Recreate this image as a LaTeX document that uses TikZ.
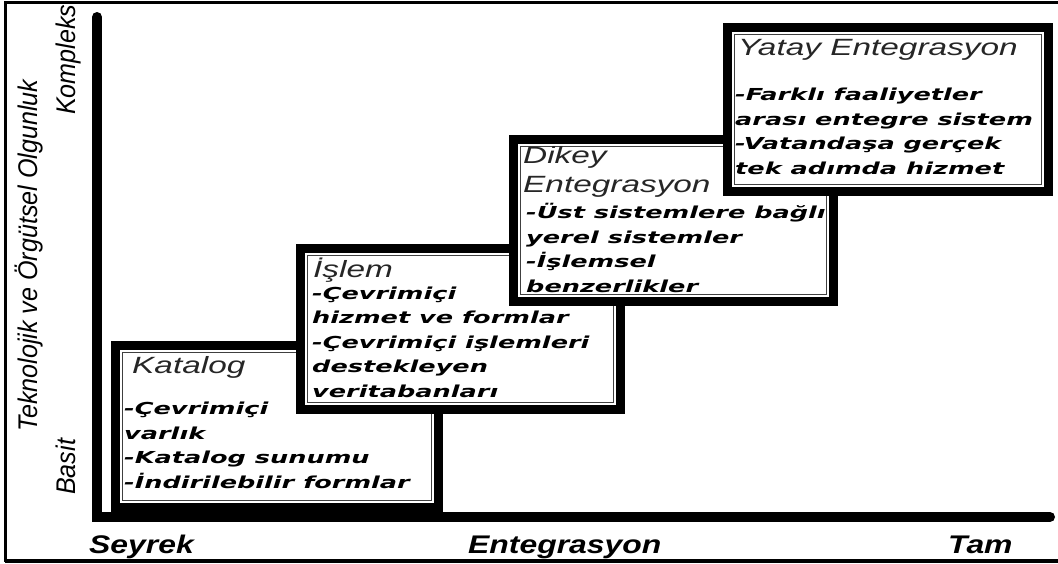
\documentclass[tikz,border=0pt]{standalone}
\usepackage{fontspec}
\setmainfont{Liberation Sans}
\newfontfamily\bodyfont[FakeStretch=1.55]{DejaVu Sans}
\newfontfamily\titlefont[FakeStretch=1.42]{Liberation Sans}
\newfontfamily\axisfont[FakeStretch=0.93]{Liberation Sans}
\newfontfamily\scalefont[FakeStretch=1.25]{Liberation Sans}
\def\bodysize{\fontsize{16.5}{24.5}\selectfont}

\begin{document}
\begin{tikzpicture}[x=1pt,y=-1pt,
    stage/.style={draw,fill=white,line width=9pt,inner sep=0pt,
        path picture={\draw[line width=0.8pt,black!75] ([shift={(7pt,-7pt)}]path picture bounding box.north west) rectangle ([shift={(-7pt,7pt)}]path picture bounding box.south east);}},
    head/.style={anchor=base west,inner sep=0pt,align=left,text=black!85,font=\titlefont\itshape\fontsize{23.5}{29}\selectfont},
    items/.style={anchor=base west,inner sep=0pt,align=left,font=\bodyfont\bfseries\itshape\bodysize},
    ylab/.style={anchor=base west,inner sep=0pt,rotate=90,font=\axisfont\itshape\fontsize{27}{28}\selectfont},
    xlab/.style={anchor=base west,inner sep=0pt,font=\scalefont\bfseries\itshape\fontsize{25.5}{26}\selectfont}]

    \useasboundingbox (0,0) rectangle (1058,563);
    \draw[line width=3pt] (1060,2) -- (5,2) -- (5,560) -- (1060,560);
    \draw[line width=4pt] (5,561) -- (1060,561);

    \draw[line width=10pt,line cap=round,line join=miter] (97,17) coordinate (ytop) -- (97,517) coordinate (origin) -- (1050,517) coordinate (xend);

    \draw (75,495) node[ylab] (basit) {Basit};
    \draw (37,432) node[ylab] (olgunluk) {Teknolojik ve Örgütsel Olgunluk};
    \draw (75,115) node[ylab] (kompleks) {Kompleks};
    \draw (89,553) node[xlab] (seyrek) {Seyrek};
    \draw (468,553) node[xlab] (entegrasyon) {Entegrasyon};
    \draw (948,553) node[xlab] (tam) {Tam};

    \draw (276.5,426) node[stage,minimum width=323,minimum height=162] (katalog) {};
    \draw (132,373) node[head] (katalogT) {Katalog};
    \draw (124,488) node[items] (katalogB) {-Çevrimiçi\\varlık\\-Katalog sunumu\\-İndirilebilir formlar};

    \draw (460,328.5) node[stage,minimum width=320,minimum height=161] (islem) {};
    \draw (313,277) node[head] (islemT) {İşlem};
    \draw (312,397) node[items] (islemB) {-Çevrimiçi\\hizmet ve formlar\\-Çevrimiçi işlemleri\\destekleyen\\veritabanları};

    \draw (673,220) node[stage,minimum width=320,minimum height=162] (dikey) {};
    \draw (523,192) node[head] (dikeyT) {Dikey\\Entegrasyon};
    \draw (526,292) node[items] (dikeyB) {-Üst sistemlere bağlı\\yerel sistemler\\-İşlemsel\\benzerlikler};

    \draw (887.5,109) node[stage,minimum width=321,minimum height=164] (yatay) {};
    \draw (738,55) node[head] (yatayT) {Yatay Entegrasyon};
    \draw (735,174) node[items] (yatayB) {-Farklı faaliyetler\\arası entegre sistem\\-Vatandaşa gerçek\\tek adımda hizmet};

\end{tikzpicture}
\end{document}
